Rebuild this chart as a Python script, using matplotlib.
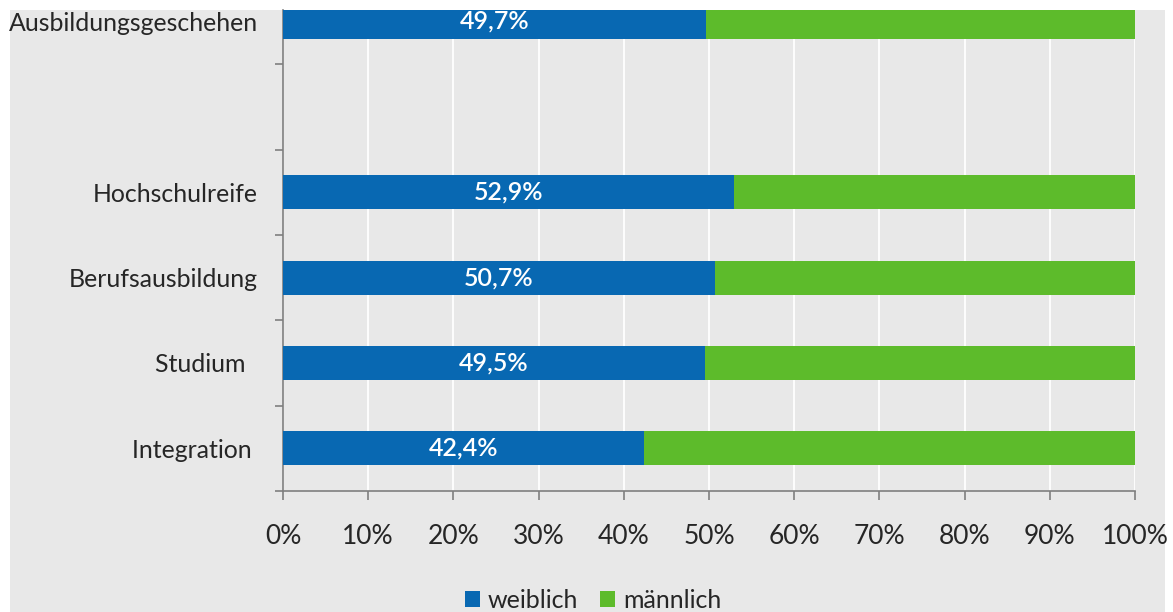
import matplotlib
matplotlib.use("Agg")
import matplotlib.pyplot as plt
from matplotlib.patches import Rectangle
from matplotlib.ticker import FixedLocator, FuncFormatter

# Anteil weiblich / männlich je Bereich (von unten nach oben)
categories = ["Integration ", "Studium  ", "Berufsausbildung", "Hochschulreife", "", "Ausbildungsgeschehen"]
weiblich = [42.4, 49.5, 50.7, 52.9, None, 49.7]
series_names = ["weiblich", "männlich"]

BLUE = "#0868B2"
GREEN = "#5DBB2B"
BG = "#E8E8E8"
TXT = "#262626"

plt.rcParams["font.family"] = ["Lato", "DejaVu Sans"]

W, H = 1173, 612
fig = plt.figure(figsize=(W / 100, H / 100), dpi=100)
fig.patch.set_facecolor("white")
fig.patches.append(Rectangle((10 / W, 0), (1165 - 10) / W, (H - 10) / H,
                             transform=fig.transFigure, facecolor=BG,
                             edgecolor="none", zorder=-5))

ax = fig.add_axes([283 / W, 121 / H, (1135 - 283) / W, (491 - 10) / H])
ax.set_facecolor(BG)
ax.patch.set_alpha(0)

ypos = list(range(len(categories)))
w_vals = [v if v is not None else 0 for v in weiblich]
m_vals = [100 - v if v is not None else 0 for v in weiblich]
bh = 0.40
ax.barh(ypos, w_vals, height=bh, color=BLUE, label=series_names[0], zorder=3)
ax.barh(ypos, m_vals, left=w_vals, height=bh, color=GREEN, label=series_names[1], zorder=3)

for y, v in zip(ypos, weiblich):
    if v is None:
        continue
    ax.text(v / 2, y, f"{v:.1f}%".replace(".", ","), ha="center", va="center",
            color="white", fontsize=18, fontweight="semibold", zorder=4)

ax.set_xlim(0, 100)
ax.set_ylim(-0.5, (449 - 10) / 85.5)

ax.xaxis.set_major_locator(FixedLocator(range(0, 101, 10)))
ax.xaxis.set_major_formatter(FuncFormatter(lambda x, p: f"{int(round(x))}%"))
ax.grid(axis="x", color="white", linewidth=1.3, zorder=1)
ax.set_axisbelow(True)

ax.set_yticks(ypos)
ax.set_yticklabels(categories)
ax.yaxis.set_minor_locator(FixedLocator([i + 0.5 for i in range(-1, len(categories))]))

ax.tick_params(axis="y", which="major", length=0, pad=18, labelsize=17.9, labelcolor=TXT)
ax.tick_params(axis="y", which="minor", length=6, width=1.2, color="#7f7f7f")
ax.tick_params(axis="x", which="major", length=6.5, width=1.2, color="#7f7f7f",
               pad=17, labelsize=19, labelcolor=TXT)

for s in ["top", "right"]:
    ax.spines[s].set_visible(False)
for s in ["left", "bottom"]:
    ax.spines[s].set_color("#7f7f7f")
    ax.spines[s].set_linewidth(1.2)

fig.legend(loc="center", bbox_to_anchor=(593 / W, 1 - 600 / H), ncol=2,
           frameon=False, fontsize=18, handlelength=0.6, handleheight=0.6,
           handletextpad=0.3, columnspacing=0.9, labelcolor=TXT,
           borderpad=0.1)

fig.savefig("out.png", dpi=100, facecolor="white")
